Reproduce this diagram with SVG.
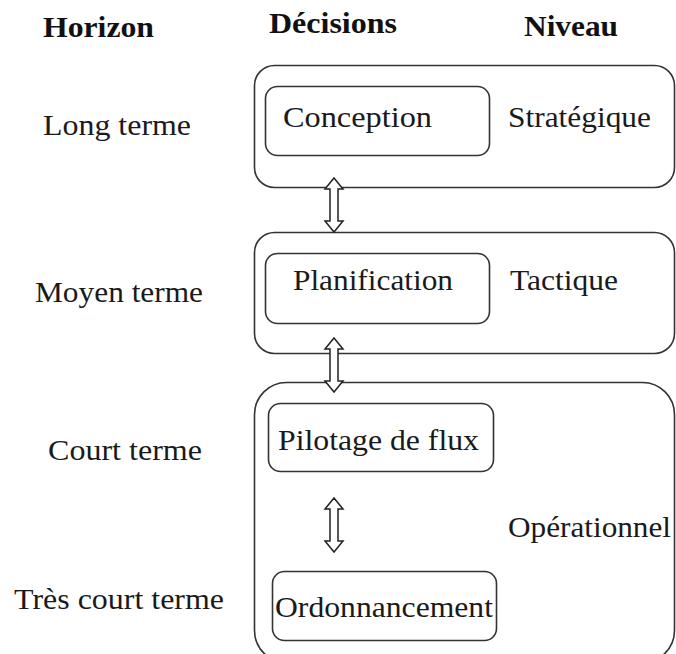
<svg xmlns="http://www.w3.org/2000/svg" width="676" height="654" viewBox="0 0 676 654">
<style>
  .t { font-family: "Liberation Serif", Tinos, "DejaVu Serif", serif; font-size: 29px; font-weight: normal; fill: #1a1a1a; }
  .h { font-family: "Liberation Serif", Tinos, "DejaVu Serif", serif; font-size: 30px; font-weight: bold; fill: #111; }
  .big { fill: none; stroke: #333; stroke-width: 1.6; }
  .box { fill: none; stroke: #333; stroke-width: 1.6; }
  .arr { fill: #fff; stroke: #222; stroke-width: 1.5; stroke-linejoin: miter; }
</style>
<rect width="676" height="654" fill="#fff"/>
<g id="headers">
  <text class="h" x="43" y="37" textLength="111" lengthAdjust="spacingAndGlyphs">Horizon</text>
  <text class="h" x="269" y="33" textLength="128" lengthAdjust="spacingAndGlyphs">Décisions</text>
  <text class="h" x="524" y="36" textLength="94" lengthAdjust="spacingAndGlyphs">Niveau</text>
</g>
<g id="horizons">
  <text class="t" x="43" y="135" textLength="148" lengthAdjust="spacingAndGlyphs">Long terme</text>
  <text class="t" x="35" y="302" textLength="168" lengthAdjust="spacingAndGlyphs">Moyen terme</text>
  <text class="t" x="48" y="460" textLength="154" lengthAdjust="spacingAndGlyphs">Court terme</text>
  <text class="t" x="14" y="609" textLength="210" lengthAdjust="spacingAndGlyphs">Très court terme</text>
</g>
<g id="niveau-strategique">
  <rect class="big" x="254.5" y="65.5" width="420" height="122" rx="20"/>
  <text class="t" x="508" y="127" textLength="143" lengthAdjust="spacingAndGlyphs">Stratégique</text>
</g>
<g id="niveau-tactique">
  <rect class="big" x="254.5" y="232.5" width="420" height="121" rx="20"/>
  <text class="t" x="510" y="290" textLength="108" lengthAdjust="spacingAndGlyphs">Tactique</text>
</g>
<g id="niveau-operationnel">
  <rect class="big" x="254.5" y="382.5" width="420" height="280" rx="32"/>
  <text class="t" x="508" y="537" textLength="163" lengthAdjust="spacingAndGlyphs">Opérationnel</text>
</g>
<g id="conception">
  <rect class="box" x="265.5" y="86.5" width="224" height="69" rx="12"/>
  <text class="t" x="283" y="127" textLength="149" lengthAdjust="spacingAndGlyphs">Conception</text>
</g>
<g id="planification">
  <rect class="box" x="265.5" y="253.5" width="224" height="70" rx="12"/>
  <text class="t" x="293" y="290" textLength="160" lengthAdjust="spacingAndGlyphs">Planification</text>
</g>
<g id="pilotage">
  <rect class="box" x="268.5" y="403.5" width="225" height="68" rx="12"/>
  <text class="t" x="278" y="450" textLength="201" lengthAdjust="spacingAndGlyphs">Pilotage de flux</text>
</g>
<g id="ordonnancement">
  <rect class="box" x="272.5" y="571.5" width="224" height="69" rx="12"/>
  <text class="t" x="275" y="617" textLength="218" lengthAdjust="spacingAndGlyphs">Ordonnancement</text>
</g>
<g id="connectors">
  <polygon class="arr" points="334,178 343,189 338,189 338,221 343,221 334,232 325,221 330,221 330,189 325,189"/>
  <polygon class="arr" points="334,338 343,349 338,349 338,381 343,381 334,392 325,381 330,381 330,349 325,349"/>
  <polygon class="arr" points="334,498 343,509 338,509 338,541 343,541 334,552 325,541 330,541 330,509 325,509"/>
</g>
</svg>
